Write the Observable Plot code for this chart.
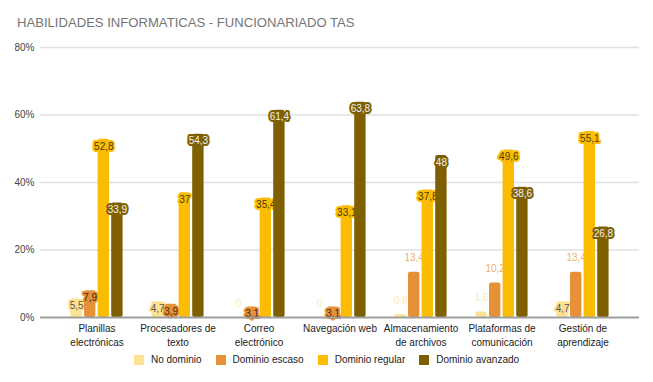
<!DOCTYPE html>
<html>
<head>
<meta charset="utf-8">
<script src="https://cdn.jsdelivr.net/npm/d3@7"></script>
<script src="https://cdn.jsdelivr.net/npm/@observablehq/plot@0.6"></script>
<style>
  html, body { margin: 0; padding: 0; background: #fff; }
  #wrap { position: relative; width: 653px; height: 382px; font-family: "Liberation Sans", Arial, sans-serif; }
  #title { position: absolute; left: 17px; top: 15px; font-size: 13.1px; color: #757575; white-space: nowrap; line-height: 15px; }
  #chart { position: absolute; left: 0; top: 40px; }
  #legend { position: absolute; left: 0; top: 355px; width: 653px; display: flex; justify-content: center; font-size: 10px; color: #222; line-height: 10px; }
  .item { display: flex; align-items: center; margin: 0 7px; }
  .sw { width: 10px; height: 10px; margin-right: 7px; }
</style>
</head>
<body>
<div id="wrap">
  <div id="title">HABILIDADES INFORMATICAS - FUNCIONARIADO TAS</div>
  <div id="chart"></div>
  <div id="legend"></div>
</div>
<script>
const categories = ["Planillas electrónicas", "Procesadores de texto", "Correo electrónico", "Navegación web", "Almacenamiento de archivos", "Plataformas de comunicación", "Gestión de aprendizaje"];
const tickLabels = ["Planillas\nelectrónicas", "Procesadores de\ntexto", "Correo\nelectrónico", "Navegación web", "Almacenamiento\nde archivos", "Plataformas de\ncomunicación", "Gestión de\naprendizaje"];
const series = ["No dominio", "Dominio escaso", "Dominio regular", "Dominio avanzado"];
const noDominio = [5.5, 4.7, 0, 0, 0.8, 1.6, 4.7];
const dominioEscaso = [7.9, 3.9, 3.1, 3.1, 13.4, 10.2, 13.4];
const dominioRegular = [52.8, 37, 35.4, 33.1, 37.8, 49.6, 55.1];
const dominioAvanzado = [33.9, 54.3, 61.4, 63.8, 48, 38.6, 26.8];
const yTicks = [0, 20, 40, 60, 80];

const colors = ["#fde293", "#e69138", "#fbbc04", "#7f6000"];
const textColors = ["#555", "#3a2a10", "#4a3c00", "#f2f2f2"];
const values = [noDominio, dominioEscaso, dominioRegular, dominioAvanzado];

const rows = [];
series.forEach((s, k) => categories.forEach((c, i) => rows.push({category: c, series: s, k, value: values[k][i]})));

const fmt = v => String(v).replace(".", ",");
const labelMap = new Map(categories.map((c, i) => [c, tickLabels[i]]));

const W = 653, H = 310, mL = 40, mR = 14, mT = 7, mB = 33;
const padOuter = 0.17;
const bw = (W - mL - mR) / (categories.length + 2 * padOuter);
const barW = 12, barStep = 13.6;
const groupOff = (bw - (3 * barStep + barW)) / 2;

// label outside the bar when it does not fit
const isOutside = d => d.value < 2 || (d.k === 1 && fmt(d.value).length >= 4);

const font = "'Liberation Sans', Arial, sans-serif";
const marks = [
  Plot.ruleY(yTicks.filter(t => t > 0), {stroke: "#e0e0e0", strokeWidth: 1.5})
];
series.forEach((s, k) => {
  const left = groupOff + k * barStep;
  const data = rows.filter(d => d.k === k);
  marks.push(Plot.barY(data, {
    x: "category", y: "value", fill: colors[k], rx: 2,
    insetLeft: left, insetRight: bw - left - barW
  }));
  const dx = left + barW / 2 - bw / 2;
  marks.push(Plot.text(data.filter(d => !isOutside(d)), {
    x: "category", y: "value", text: d => fmt(d.value), dx, dy: 7,
    fill: textColors[k], stroke: colors[k], strokeWidth: 4, strokeLinejoin: "round",
    paintOrder: "stroke", fontSize: 10, fontFamily: font
  }));
  marks.push(Plot.text(data.filter(isOutside), {
    x: "category", y: "value", text: d => fmt(d.value), dx, dy: -14,
    fill: colors[k], fillOpacity: 0.75, fontSize: 10, fontFamily: font
  }));
});
marks.push(Plot.ruleY([0], {stroke: "#9e9e9e", strokeWidth: 2}));
marks.push(Plot.axisY({ticks: yTicks, tickFormat: d => d + "%", tickSize: 0, tickPadding: 6, line: true, stroke: "#333", fill: "#444", fontSize: 10}));
marks.push(Plot.axisX({tickSize: 0, tickPadding: 5, tickFormat: d => labelMap.get(d), fill: "#222", fontSize: 10, lineHeight: 1.35}));

const chart = Plot.plot({
  width: W, height: H,
  marginLeft: mL, marginRight: mR, marginTop: mT, marginBottom: mB,
  style: {fontFamily: font, fontSize: "10px", background: "transparent"},
  x: {domain: categories, paddingInner: 0, paddingOuter: padOuter, label: null},
  y: {domain: [0, 80], label: null},
  marks
});
document.getElementById("chart").appendChild(chart);

const legend = document.getElementById("legend");
series.forEach((s, k) => {
  const it = document.createElement("div");
  it.className = "item";
  it.innerHTML = `<div class="sw" style="background:${colors[k]}"></div><span>${s}</span>`;
  legend.appendChild(it);
});
</script>
</body>
</html>
